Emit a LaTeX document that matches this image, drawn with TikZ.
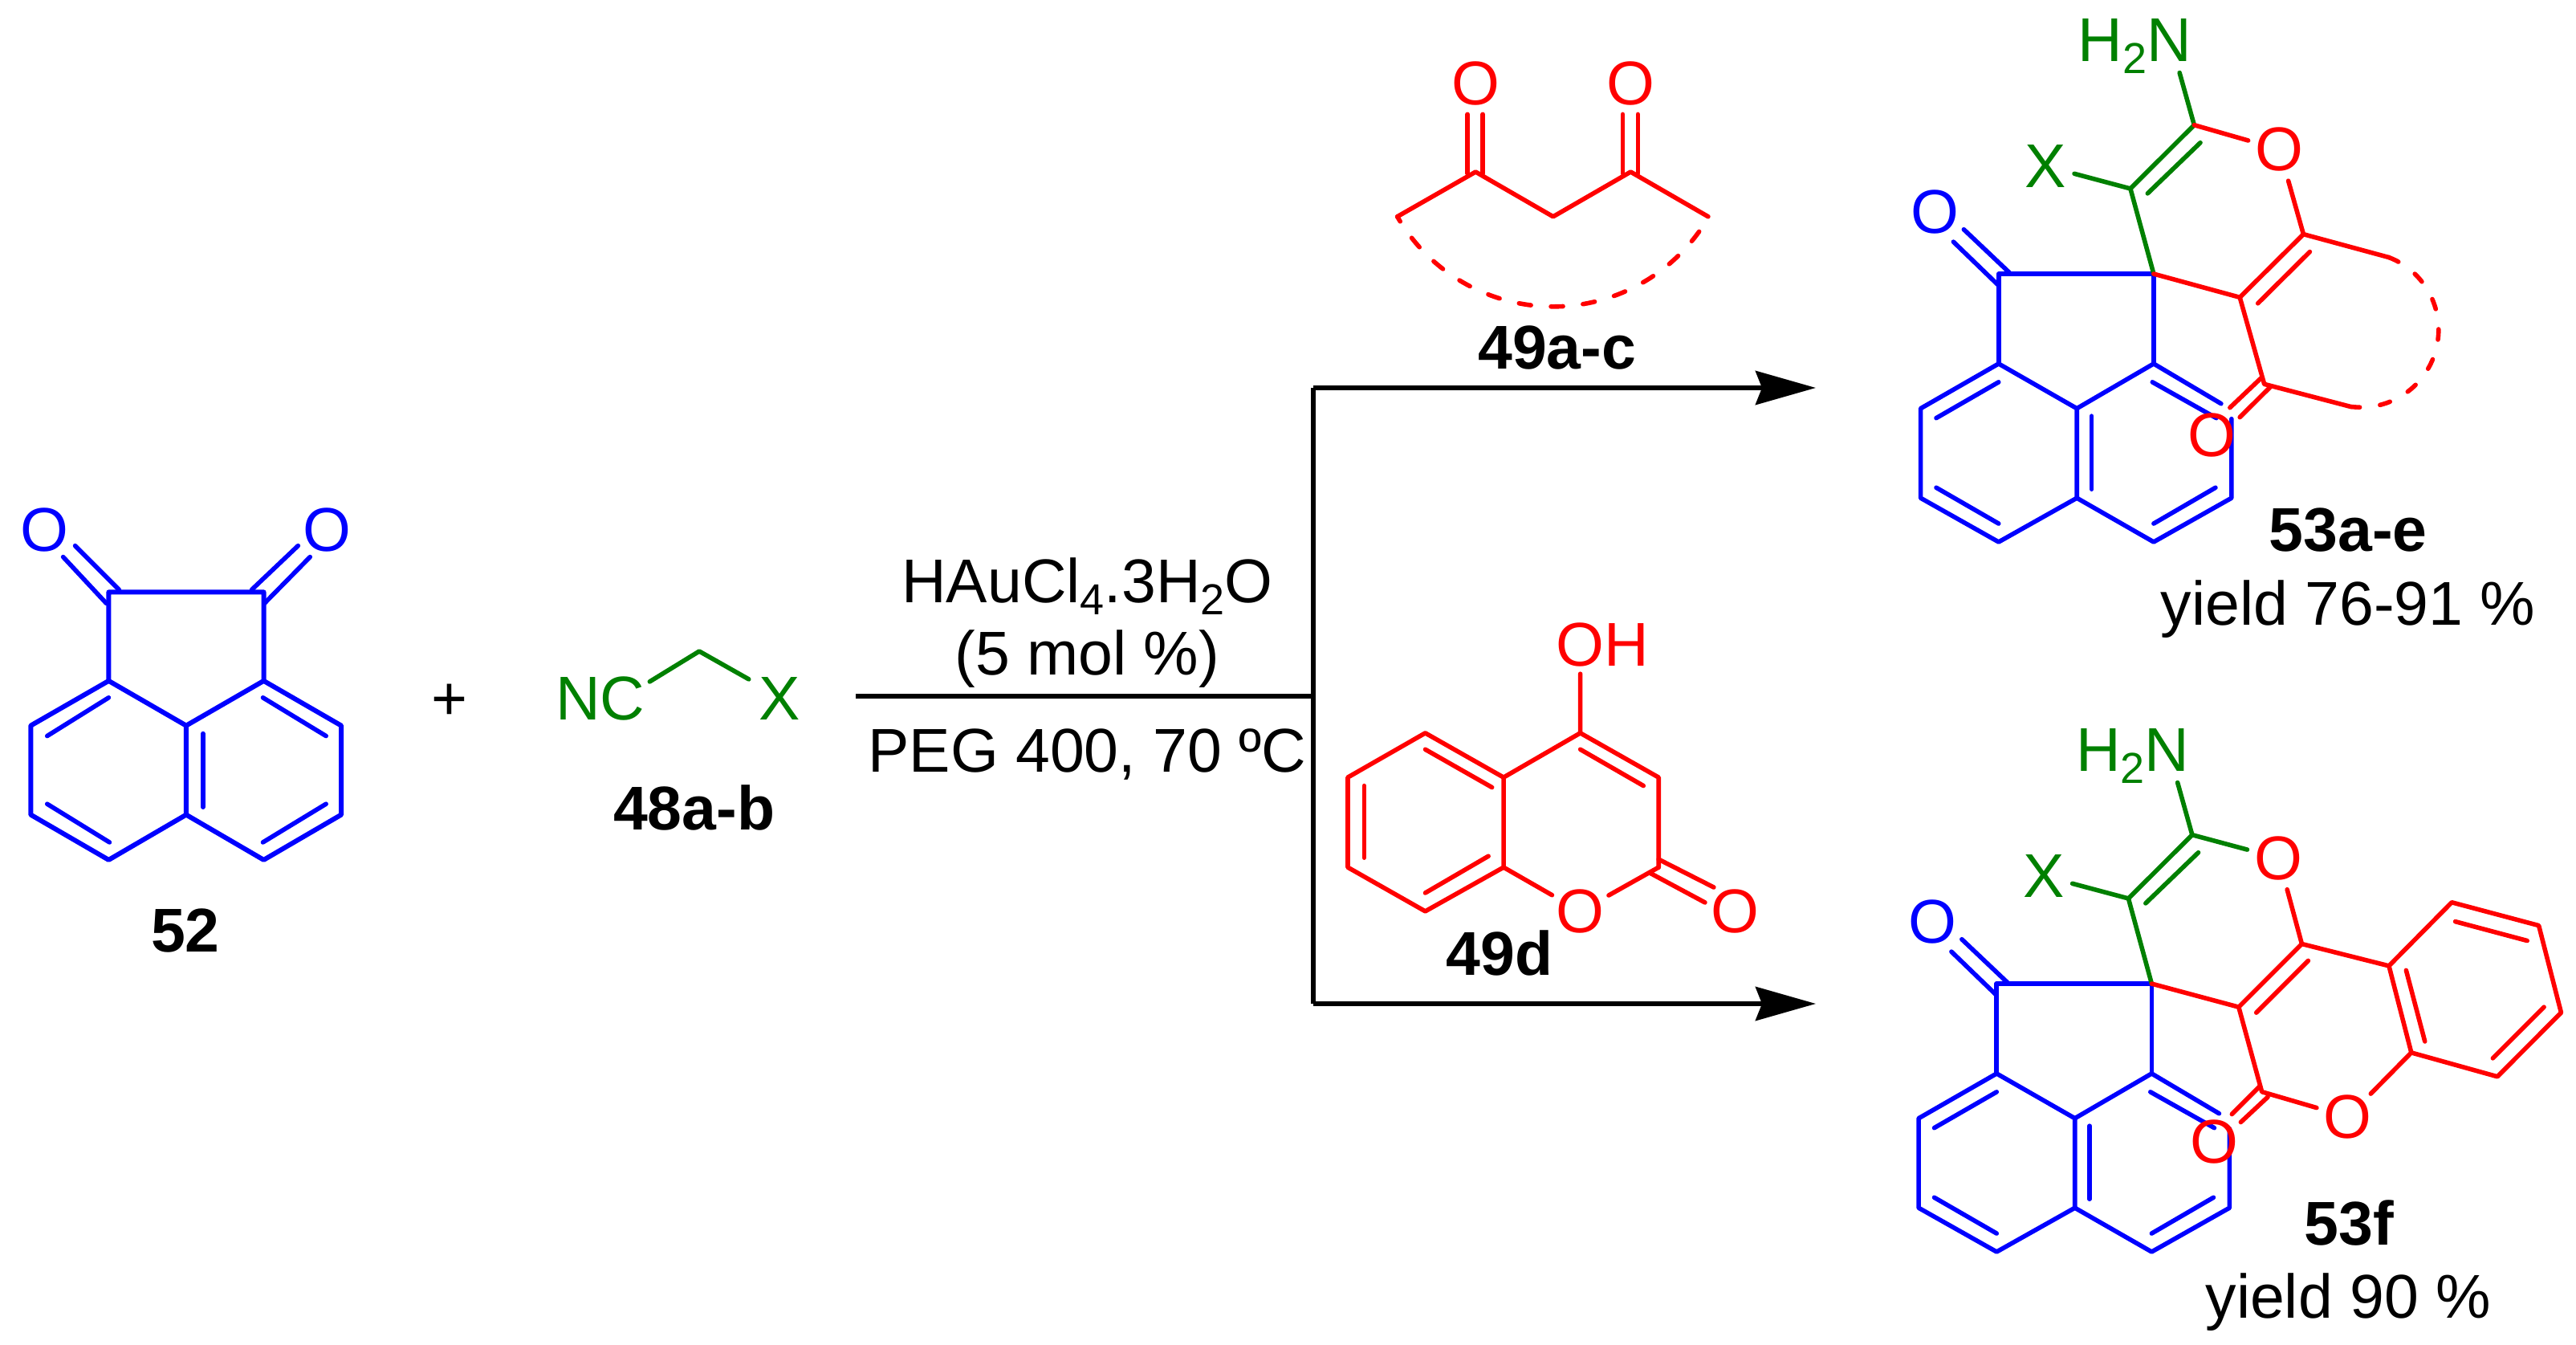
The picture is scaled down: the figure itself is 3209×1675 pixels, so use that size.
\documentclass[tikz,border=0pt]{standalone}
\usepackage{fontspec}
\setmainfont{Liberation Sans}
\usetikzlibrary{arrows.meta}
\newcommand\chemsub[1]{\raisebox{-15pt}{\fontsize{54}{60}\selectfont #1}}
\tikzset{
  txt/.style={inner sep=0pt,anchor=base,font=\fontsize{77}{90}\selectfont,text=#1},
  txt/.default=black,
  bold/.style={inner sep=0pt,anchor=base,font=\fontsize{77}{90}\selectfont\bfseries,text=black},
  atom/.style={circle,inner sep=0pt,font=\fontsize{77}{90}\selectfont,text=#1},
  bond/.style={line width=5.6pt,line cap=round,line join=round,draw=#1},
  blueb/.style={bond=chemblue},
  greenb/.style={bond=chemgreen},
  redb/.style={bond=chemred},
  dashb/.style={bond=chemred},
  reaction/.style={line width=6pt,draw=black},
  rxnarrow/.style={reaction,-{Stealth[length=75pt,width=42pt,inset=8pt]}},
  region/.style 2 args={x=0.9955pt,y=-0.9955pt,xshift=#1pt,yshift=-#2pt}
}
\definecolor{chemblue}{RGB}{0,0,255}
\definecolor{chemred}{RGB}{255,0,0}
\definecolor{chemgreen}{RGB}{0,128,0}
% blue acenaphthenone part and green part shared by both products
\newcommand\spirocore[1]{%
  \coordinate (#1a) at (2490.6,342.6);
  \coordinate (#1b) at (2684.6,342.6);
  \coordinate (#1c) at (2490.6,455);
  \coordinate (#1d) at (2684.6,455);
  \coordinate (#1e) at (2393,511);
  \coordinate (#1f) at (2393,623);
  \coordinate (#1g) at (2490.6,678);
  \coordinate (#1h) at (2588.5,623);
  \coordinate (#1i) at (2588.5,511);
  \coordinate (#1j) at (2684.6,678);
  \coordinate (#1k) at (2782,623);
  \coordinate (#1m) at (2769,505);
  \coordinate (#1n) at (2782,524);
  \coordinate (#1v) at (2655.5,236);
  \coordinate (#1w) at (2735.3,156.4);
  \coordinate (#1nh) at (2717,91);
  \node[atom=chemblue] (#1ob) at (2410.7,265.6) {O};
  \node[atom=chemgreen] (#1x) at (2549.4,207.7) {X};
  \node[txt=chemgreen] (#1amine) at (2661,77) {H\chemsub{2}N};
  \draw[blueb] (#1d) -- (#1b) -- (#1a) -- (#1c);
  \draw[blueb] (#1c) -- (#1e) -- (#1f) -- (#1g) -- (#1h) -- (#1i) -- (#1c);
  \draw[blueb] (#1i) -- (#1d) -- (#1m);
  \draw[blueb] (#1h) -- (#1j) -- (#1k) -- (#1n);
  \draw[blueb] (2490.6,478) -- (2412.5,523);
  \draw[blueb] (2607,520.5) -- (2607,612);
  \draw[blueb] (2412.5,610) -- (2490.6,655);
  \draw[blueb] (2684.6,655) -- (2762,610);
  \draw[blueb] (2683,478) -- (2763,523);
  \draw[blueb] (2447,287) -- (2504,341);
  \draw[blueb] (2434,302.5) -- (2489.4,356);
  \draw[greenb] (#1x) -- (#1v) -- (#1b);
  \draw[greenb] (#1v) -- (#1w) -- (#1nh);
  \draw[greenb] (2677,242) -- (2743,178.5);
}
\begin{document}
\begin{tikzpicture}[x=1pt,y=-1pt]
\path[fill=white,use as bounding box] (0,0) rectangle (3209,1675);

% ---------- reaction arrows ----------
\coordinate (rs) at (1066,867);
\coordinate (jm) at (1636,867);
\coordinate (jt) at (1636,483);
\coordinate (jb) at (1636,1250);
\coordinate (tt) at (2262,483);
\coordinate (tb) at (2262,1250);
\draw[reaction] (rs) -- (jm);
\draw[reaction,line cap=square] (jt) -- (jb);
\draw[rxnarrow] (jt) -- (tt);
\draw[rxnarrow] (jb) -- (tb);

\begin{scope}[region={0}{2.7}]
% ---------- 52 ----------
\coordinate (pa) at (136,738);
\coordinate (pb) at (330,738);
\coordinate (pc) at (136,849);
\coordinate (pd) at (330,849);
\coordinate (pe) at (38.5,905);
\coordinate (pf) at (38.5,1016.5);
\coordinate (pg) at (136,1073);
\coordinate (ph) at (233,1016.5);
\coordinate (pi) at (233,905);
\coordinate (pj) at (330,1073);
\coordinate (pk) at (427,1016.5);
\coordinate (pl) at (427,905);
\node[atom=chemblue] (o52a) at (56,660) {O};
\node[atom=chemblue] (o52b) at (409,660) {O};
\draw[blueb,line width=6pt] (pa) -- (pb) -- (pd) -- (pi) -- (pc) -- (pa);
\draw[blueb,line width=6pt] (pc) -- (pe) -- (pf) -- (pg) -- (ph) -- (pi);
\draw[blueb,line width=6pt] (ph) -- (pj) -- (pk) -- (pl) -- (pd);
\draw[blueb] (136,870) -- (59,918);
\draw[blueb] (254,915) -- (254,1007);
\draw[blueb] (329,870) -- (408,918);
\draw[blueb] (59,1003) -- (137,1051);
\draw[blueb] (408,1003) -- (329,1051);
\draw[blueb] (79,694) -- (133,752);
\draw[blueb] (94,680) -- (149,735);
\draw[blueb] (373,680) -- (315,735);
\draw[blueb] (388,694) -- (331,752);
\node[bold] (lab52) at (232,1188) {52};

% ---------- plus, 48 ----------
\node[txt] (plus) at (563,898) {+};
\node[txt=chemgreen] (nc) at (751,898) {NC};
\node[txt=chemgreen] (x48) at (975.6,898) {X};
\coordinate (ca) at (875,812);
\coordinate (ncend) at (813,850);
\coordinate (xend) at (937,847);
\draw[greenb] (ncend) -- (ca) -- (xend);
\node[bold] (lab48) at (868.6,1035) {48a-b};
\end{scope}

\begin{scope}[region={4.5}{0}]
\node[txt] (cat) at (1356,754) {HAuCl\chemsub{4}.3H\chemsub{2}O};
\node[txt] (mol) at (1356,844) {(5 mol \%)};
\node[txt] (peg) at (1356,966) {PEG 400, 70 ºC};

% ---------- 49a-c ----------
\coordinate (da) at (1744,271);
\coordinate (db) at (1842,215);
\coordinate (dc) at (1939,271);
\coordinate (dd) at (2036,215);
\coordinate (de) at (2133,271);
\node[atom=chemred] (o49a) at (1842,104) {O};
\node[atom=chemred] (o49b) at (2036,104) {O};
\draw[redb] (da) -- (db) -- (dc) -- (dd) -- (de);
\draw[redb] (1832,143) -- (1832,217);
\draw[redb] (1851,143) -- (1851,217);
\draw[redb] (2026,143) -- (2026,217);
\draw[redb] (2045,143) -- (2045,217);
\draw[dashb,dash pattern=on 15pt off 25pt,dash phase=8pt] (da) arc[start angle=210,end angle=330,radius=224pt];
\node[bold] (lab49ac) at (1944,462) {49a-c};

% ---------- 49d ----------
\coordinate (c4) at (1973,917);
\coordinate (c3) at (2071,972.5);
\coordinate (c2) at (2071,1085);
\coordinate (c4a) at (1877,972.5);
\coordinate (c8a) at (1877,1085);
\coordinate (c8) at (1779,1140);
\coordinate (c7) at (1682,1085);
\coordinate (c6) at (1682,972.5);
\coordinate (c5) at (1779,917);
\coordinate (ohend) at (1973,843);
\node[txt=chemred] (oh) at (2001,833) {OH};
\node[atom=chemred] (o1) at (1973,1140) {O};
\node[atom=chemred] (o2) at (2167,1140) {O};
\draw[redb] (ohend) -- (c4) -- (c3) -- (c2);
\draw[redb] (c4) -- (c4a) -- (c5) -- (c6) -- (c7) -- (c8) -- (c8a) -- (c4a);
\draw[redb] (c8a) -- (o1) -- (c2);
\draw[redb] (1779,937.5) -- (1862.5,985);
\draw[redb] (1702.5,983) -- (1702.5,1073);
\draw[redb] (1779,1117) -- (1858,1071);
\draw[redb] (1973,937.5) -- (2052,983);
\draw[redb] (2071,1075) -- (2140,1110);
\draw[redb] (2060,1092) -- (2129,1129);
\node[bold] (lab49d) at (1872,1220) {49d};
\end{scope}

\begin{scope}[region={10.35}{0}]
% ---------- 53a-e ----------
\spirocore{t}
\coordinate (tp) at (2792.4,372);
\coordinate (tq) at (2872,293);
\coordinate (tr) at (2823,480.5);
\coordinate (ts) at (2979,322);
\coordinate (tu) at (2932,509);
\node[atom=chemred] (to) at (2842,187) {O};
\node[atom=chemred] (toc) at (2757.5,544.6) {O};
\draw[redb] (tw) -- (to) -- (tq) -- (tp) -- (tb);
\draw[redb] (tp) -- (tr) -- (tu);
\draw[redb] (tq) -- (ts);
\draw[redb] (2880,315) -- (2815,379.5);
\draw[redb] (2820,472) -- (2780,510);
\draw[redb] (2830,484.6) -- (2792.4,522);
\draw[dashb,dash pattern=on 13pt off 25.5pt] (ts) arc[start angle=68.9,end angle=-97.1,radius=96.6pt];
\node[bold] (lab53a) at (2928,690) {53a-e};
\node[txt] (yield53a) at (2928,782) {yield 76-91 \%};
\begin{scope}[shift={(-2.5,888)}]
\spirocore{u}
\end{scope}
\end{scope}

\begin{scope}[region={10.35}{3.8}]
% ---------- 53f ----------
\coordinate (up) at (2791,1256);
\coordinate (uq) at (2870,1177);
\coordinate (ur) at (2820,1362);
\coordinate (u1) at (2979,1204.5);
\coordinate (u2) at (3057.6,1125);
\coordinate (u3) at (3166.5,1154);
\coordinate (u4) at (3194.5,1263);
\coordinate (u5) at (3114.7,1343);
\coordinate (u6) at (3007,1313);
\node[atom=chemred] (uo) at (2841,1069.6) {O};
\node[atom=chemred] (uoc) at (2760,1425) {O};
\node[atom=chemred] (uox) at (2927.6,1393.4) {O};
\draw[greenb] (uw) -- (uo);
\draw[redb] (uo) -- (uq) -- (up) -- (ub);
\draw[redb] (up) -- (ur) -- (uox) -- (u6);
\draw[redb] (uq) -- (u1) -- (u2) -- (u3) -- (u4) -- (u5) -- (u6) -- (u1);
\draw[redb] (2878,1198) -- (2813,1263);
\draw[redb] (2817.5,1355) -- (2782.5,1390);
\draw[redb] (2827.4,1368.5) -- (2793.6,1400);
\draw[redb] (3062,1149) -- (3152,1173);
\draw[redb] (3173,1256) -- (3109,1320);
\draw[redb] (3024,1299) -- (3000.5,1210);
\node[bold] (lab53f) at (2929,1554) {53f};
\node[txt] (yield53f) at (2928,1645) {yield 90 \%};
\end{scope}
\end{tikzpicture}
\end{document}
